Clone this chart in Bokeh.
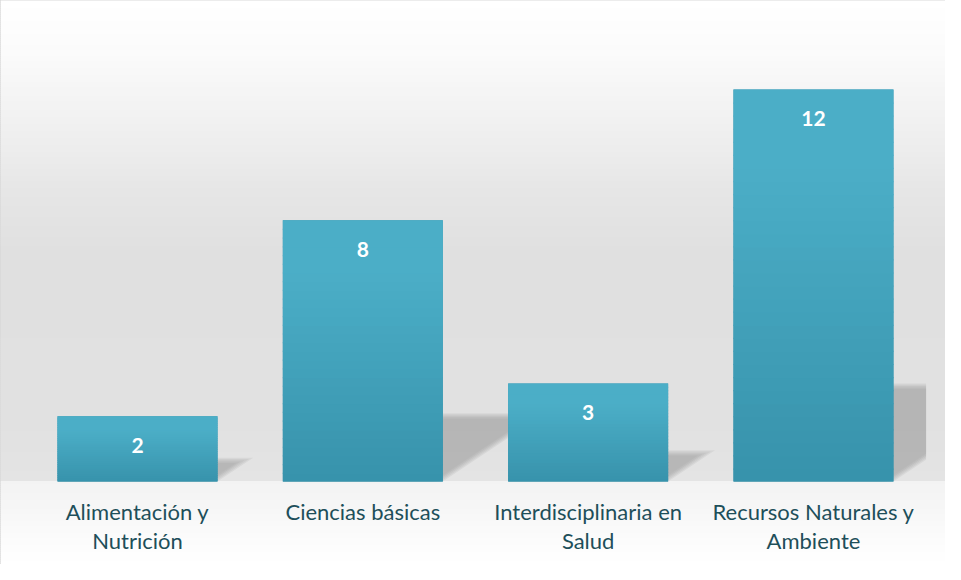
import numpy as np
from bokeh.plotting import figure
from bokeh.models import Range1d, ColumnDataSource
from bokeh.core.properties import value
from bokeh.embed import file_html
from bokeh.resources import INLINE

# ---- data ----
categories = ["Alimentación y\nNutrición", "Ciencias básicas",
              "Interdisciplinaria en\nSalud", "Recursos Naturales y\nAmbiente"]
counts = [2, 8, 3, 12]

# ---- geometry / style ----
W, H = 945, 564
PX_PER_UNIT = 32.67          # vertical pixels per unit
STEP = 225.33                # horizontal pixels per category
BAR_W = 0.71
X_START, X_END = -0.608, 3.586
Y_START = -83 / PX_PER_UNIT
Y_END = 481 / PX_PER_UNIT
CLIP_X = 3.50
ONE_PX = 1.0 / PX_PER_UNIT

TOP_COL = np.array([0x4B, 0xAE, 0xC7])
BOT_COL = np.array([0x37, 0x92, 0xAB])
LABEL_COL = "#1E4F5A"
FONT = "Lato"

p = figure(width=W, height=H, output_backend="svg", toolbar_location=None,
           x_range=Range1d(X_START, X_END), y_range=Range1d(Y_START, Y_END),
           x_axis_location=None, y_axis_location=None, min_border=0,
           outline_line_color="#d9d9d9", outline_line_width=2)
p.grid.visible = False
p.background_fill_color = "white"
p.border_fill_color = "white"


def hexc(rgb):
    return "#%02x%02x%02x" % tuple(int(round(c)) for c in rgb)


# ---- background gradient (wall + floor), stops in pixels above/below baseline ----
wall_stops = [(0, 228), (60, 225), (230, 224), (290, 230), (340, 238),
              (390, 245), (430, 251), (465, 254), (481, 255)]
floor_stops = [(0, 243), (-30, 247), (-60, 252), (-83, 255)]


def band_quads(stops, step=2):
    pxs = np.array([s[0] for s in stops], dtype=float)
    vals = np.array([s[1] for s in stops], dtype=float)
    order = np.argsort(pxs)
    pxs, vals = pxs[order], vals[order]
    b, t, c = [], [], []
    y = pxs[0]
    while y < pxs[-1]:
        y2 = min(y + step, pxs[-1])
        v = np.interp((y + y2) / 2, pxs, vals)
        b.append(y / PX_PER_UNIT)
        t.append(y2 / PX_PER_UNIT + 0.6 * ONE_PX)
        c.append(hexc([v, v, v]))
        y = y2
    return b, t, c


for stops in (wall_stops, floor_stops):
    b, t, c = band_quads(stops)
    p.quad(left=X_START, right=X_END, bottom=b, top=t, fill_color=c,
           line_color=None)

# ---- perspective shadows (soft, several layers) ----
xs = np.arange(len(categories), dtype=float)
SHEAR = 1.5 * PX_PER_UNIT / STEP   # x units per y unit


def clip_right(poly, xmax):
    out = []
    n = len(poly)
    for i in range(n):
        a, bpt = poly[i], poly[(i + 1) % n]
        ina, inb = a[0] <= xmax, bpt[0] <= xmax
        if ina:
            out.append(a)
        if ina != inb:
            tt = (xmax - a[0]) / (bpt[0] - a[0])
            out.append((xmax, a[1] + tt * (bpt[1] - a[1])))
    return out


layers = [(0.16, 0.03), (0.12, 0.035), (0.08, 0.04), (0.04, 0.045), (0.0, 0.05)]
for grow, alpha in layers:
    sx, sy = [], []
    for x, v in zip(xs, counts):
        hs = 0.227 * v + 0.216 + 0.06 - grow
        xl, xr = x - BAR_W / 2, x + BAR_W / 2 - grow * 0.25
        poly = [(xl, 0), (xr, 0), (xr + SHEAR * hs, hs), (xl + SHEAR * hs, hs)]
        poly = clip_right(poly, CLIP_X)
        sx.append([q[0] for q in poly])
        sy.append([q[1] for q in poly])
    p.patches(sx, sy, fill_color="black", fill_alpha=alpha, line_color=None)

# ---- bars with vertical gradient ----
src = ColumnDataSource(dict(x=xs, top=counts, cat=categories,
                            lbl=[str(v) for v in counts]))
p.vbar(x="x", top="top", bottom=0, width=BAR_W, source=src,
       fill_color=hexc(BOT_COL), line_color=None)

N = 30
gx, gb, gt, gc = [], [], [], []
for x, v in zip(xs, counts):
    for j in range(N):
        f = (j + 0.5) / N
        gx.append(x)
        gb.append(max(0.0, v * j / N - 1.2 * ONE_PX))
        gt.append(v * (j + 1) / N)
        gc.append(hexc(BOT_COL + (TOP_COL - BOT_COL) * min(1.0, f * 1.25)))
p.vbar(x=gx, bottom=gb, top=gt, width=BAR_W, fill_color=gc, line_color=None)

# ---- value labels ----
p.text(x="x", y="top", text="lbl", source=src,
       text_color="white", text_font=value(FONT), text_font_style="bold",
       text_font_size="21px", text_align="center", text_baseline="middle",
       y_offset=29)

# ---- category labels ----
line1 = [c.split("\n")[0] for c in categories]
line2 = [c.split("\n")[1] if "\n" in c else "" for c in categories]
for lines, off in ((line1, 30), (line2, 59)):
    p.text(x=xs, y=[0] * len(xs), text=lines, text_color=LABEL_COL,
           text_font=value(FONT), text_font_size="22px", text_align="center",
           text_baseline="middle", y_offset=off)

open("out.html", "w").write(file_html(p, INLINE))
